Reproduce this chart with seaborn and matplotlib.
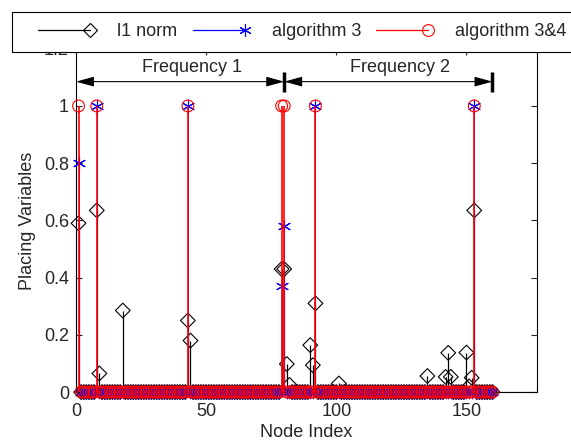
import numpy as np
import matplotlib
matplotlib.use('Agg')
import matplotlib.pyplot as plt
import seaborn as sns
from matplotlib.lines import Line2D
from matplotlib.patches import Rectangle
from matplotlib.legend_handler import HandlerLine2D

# stem data (node index -> placing variable), everything else is 0
n_nodes = 160
l1_idx = [1, 8, 9, 18, 43, 44, 79, 80, 81, 82, 90, 91, 92, 101,
          135, 142, 143, 144, 150, 151, 152, 153]
l1_val = [0.59, 0.635, 0.065, 0.285, 0.25, 0.18, 0.43, 0.43, 0.098, 0.025,
          0.164, 0.094, 0.31, 0.03, 0.056, 0.053, 0.137, 0.053, 0.138, 0.02,
          0.05, 0.635]
alg3_idx = [1, 8, 43, 79, 80, 92, 153]
alg3_val = [0.8, 1, 1, 0.37, 0.58, 1, 1]
alg34_idx = [1, 8, 43, 79, 80, 92, 153]
alg34_val = [1, 1, 1, 1, 1, 1, 1]

series_names = ['l1 norm', 'algorithm 3', 'algorithm 3&4']
freq_labels = ['Frequency 1', 'Frequency 2']
freq_edges = [0, 80, 160]
yticks = [0, 0.2, 0.4, 0.6, 0.8, 1, 1.2]
ytick_labels = ['0', '0.2', '0.4', '0.6', '0.8', '1', '1.2']
xticks = [0, 50, 100, 150]

FS = 13

sns.set_style('ticks')
plt.rcParams['font.family'] = ['Liberation Sans', 'DejaVu Sans']
plt.rcParams['font.size'] = FS

nodes = np.arange(1, n_nodes + 1)

def full(idx, val):
    y = np.zeros(n_nodes)
    y[np.array(idx) - 1] = val
    return y

l1 = full(l1_idx, l1_val)
alg3 = full(alg3_idx, alg3_val)
alg34 = full(alg34_idx, alg34_val)

fig = plt.figure(figsize=(5.71, 4.43), dpi=100)
ax = fig.add_axes([0.133, 0.115, 0.807, 0.775])

star = (6, 2, 0)
styles = [
    (l1, 'black', 'D', 7.5, 0.9),
    (alg3, 'blue', star, 9, 0.6),
    (alg34, 'red', 'o', 8.5, 1.2),
]
for i, (y, c, m, ms, lw) in enumerate(styles):
    nz = y != 0
    ax.vlines(nodes[nz], 0, y[nz], color=c, lw=lw, zorder=2 + i)
    if m == star:
        sns.scatterplot(x=nodes, y=y, marker=m, s=ms ** 2, color=c,
                        linewidth=0.8, ax=ax, zorder=2.5 + i, legend=False,
                        clip_on=False)
    else:
        sns.scatterplot(x=nodes, y=y, marker=m, s=ms ** 2, color=c,
                        facecolor='none', edgecolor=c, linewidth=0.8,
                        ax=ax, zorder=2.5 + i, legend=False, clip_on=False)
ax.axhline(0, color='black', lw=0.8, zorder=1.5)

# frequency band arrows
y_arr = 1.085
for k, lab in enumerate(freq_labels):
    x0, x1 = freq_edges[k], freq_edges[k + 1]
    ax.annotate('', xy=(x1, y_arr), xytext=(x0, y_arr),
                arrowprops=dict(arrowstyle='<|-|>,head_length=1.1,head_width=0.3',
                                color='black', lw=0.8, shrinkA=0, shrinkB=0,
                                mutation_scale=10))
    ax.text((x0 + x1) / 2 + 4.5, 1.135, lab, ha='center', va='center',
            fontsize=FS)
for xb in freq_edges[1:]:
    ax.plot([xb, xb], [1.05, 1.12], color='black', lw=2.5,
            solid_capstyle='butt')

ax.set_xlim(0, 177)
ax.set_ylim(0, 1.2)
ax.set_xticks(xticks)
ax.set_yticks(yticks)
ax.set_yticklabels(ytick_labels)
ax.tick_params(direction='in', length=4, width=0.8, top=True, right=True,
               labelsize=FS)
ax.tick_params(axis='x', pad=8)
ax.tick_params(axis='y', pad=5)
for s in ax.spines.values():
    s.set_linewidth(0.8)
    s.set_color('black')
ax.set_xlabel('Node Index', fontsize=FS, labelpad=3)
ax.set_ylabel('Placing Variables', fontsize=FS, labelpad=6)


class StemHandler(HandlerLine2D):
    # marker at the right end of the line, like a stem legend entry
    def create_artists(self, legend, orig_handle, xdescent, ydescent,
                       width, height, fontsize, trans):
        artists = super().create_artists(legend, orig_handle, xdescent,
                                         ydescent, width, height, fontsize,
                                         trans)
        artists[0].set_markevery([2])
        return artists


# legend box runs off the right edge of the figure
fig.patches.append(Rectangle((12 / 571, 1 - 52 / 443), 1.0, 40 / 443,
                             transform=fig.transFigure, facecolor='white',
                             edgecolor='black', lw=0.8, zorder=4))

handles = []
for (y, c, m, ms, lw), name in zip(styles, series_names):
    handles.append(Line2D([], [], color=c, lw=0.9, marker=m, ms=ms,
                          mfc='none', mec=c, mew=0.8, label=name))
leg = fig.legend(handles=handles, loc='center left',
                 bbox_to_anchor=(38 / 571, 1 - 32 / 443), ncol=3,
                 frameon=False, fontsize=FS, handlelength=2.88,
                 handletextpad=1.5, columnspacing=0.85, borderpad=0,
                 borderaxespad=0,
                 handler_map={Line2D: StemHandler(numpoints=1)})
leg.set_zorder(5)

fig.savefig('out.png', dpi=100)
